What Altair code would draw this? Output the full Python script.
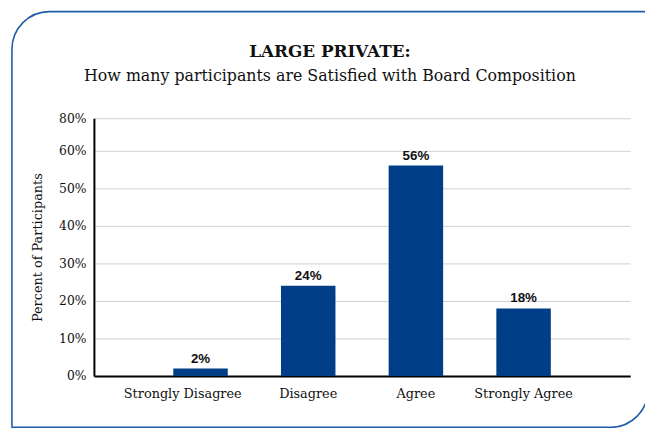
import altair as alt
import pandas as pd

categories = ["Strongly Disagree", "Disagree", "Agree", "Strongly Agree"]
values = [2, 24, 56, 18]
y_ticks = [0, 10, 20, 30, 40, 50, 60, 68.6]
title_text = "LARGE PRIVATE:"
subtitle_text = "How many participants are Satisfied with Board Composition"

df = pd.DataFrame({"category": categories, "value": values})

SERIF = "DejaVu Serif"
BLUE = "#003f87"

x_enc = alt.X(
    "category:N",
    sort=categories,
    scale=alt.Scale(paddingInner=0.494, paddingOuter=0.737),
    axis=alt.Axis(
        title=None, labelAngle=0, ticks=False, domainColor="black", domainWidth=2,
        labelFont=SERIF, labelFontSize=13, labelColor="#111", labelPadding=12,
        labelOffset={"condition": {"test": "datum.value == 'Strongly Disagree'", "value": -18}, "value": 0},
        grid=False,
    ),
)
y_enc = alt.Y(
    "value:Q",
    scale=alt.Scale(domain=[0, 68.6], nice=False, zero=True),
    axis=alt.Axis(
        title="Percent of Participants", values=y_ticks,
        labelExpr="datum.value > 65 ? '80%' : datum.value + '%'",
        labelOverlap=False,
        ticks=False, domainColor="black", domainWidth=2,
        gridColor="#d0d0d0", gridWidth=1,
        labelFont=SERIF, labelFontSize=12.5, labelColor="#111", labelPadding=8,
        titleFont=SERIF, titleFontSize=13, titleFontWeight="normal", titleColor="#111",
        titlePadding=14,
    ),
)

bars = alt.Chart(df).mark_bar(color=BLUE).encode(x=x_enc, y=y_enc)
labels = alt.Chart(df).transform_calculate(lbl="datum.value + '%'").mark_text(
    font="Liberation Sans", fontWeight="bold", fontSize=13.5, color="#111",
    baseline="bottom", dy=-3,
).encode(x=x_enc, y=y_enc, text="lbl:N")

frame = alt.Chart(df.head(1)).mark_rect(
    fill=None, fillOpacity=0, stroke="#1f5ca8", strokeWidth=1.6,
    cornerRadiusTopLeft=38, cornerRadiusBottomRight=38,
).encode(x=alt.value(-83), x2=alt.value(561), y=alt.value(-108), y2=alt.value(313))

title = alt.Chart(pd.DataFrame({"t": [title_text]})).mark_text(
    font=SERIF, fontSize=17, fontWeight="bold", color="#111", baseline="alphabetic", align="center"
).encode(text="t:N", x=alt.value(239), y=alt.value(-62))

subtitle = alt.Chart(pd.DataFrame({"t": [subtitle_text]})).mark_text(
    font=SERIF, fontSize=16, color="#111", baseline="alphabetic", align="center"
).encode(text="t:N", x=alt.value(239), y=alt.value(-38))

chart = alt.layer(frame, title, subtitle, bars, labels).properties(
    width=543, height=261,
    autosize=alt.AutoSizeParams(type="none"),
    padding={"left": 87, "top": 109, "right": 15, "bottom": 50},
).configure_view(stroke=None)

chart.save("out.html", embed_options={"renderer": "svg", "actions": False})
